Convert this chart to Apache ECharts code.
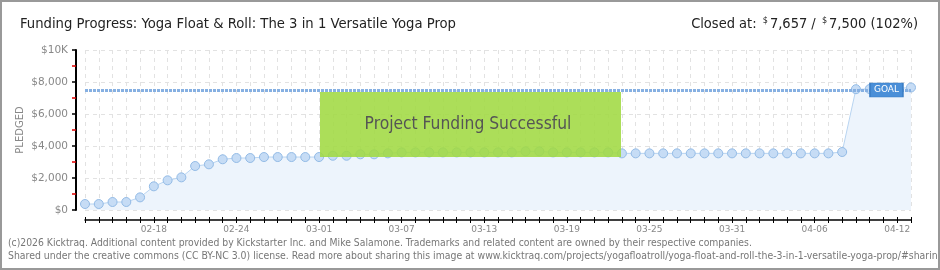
<!DOCTYPE html>
<html><head><meta charset="utf-8">
<script src="https://cdn.jsdelivr.net/npm/echarts@6/dist/echarts.min.js"></script>
<style>html,body{margin:0;padding:0;background:#fff}#c{width:940px;height:270px}</style>
</head><body><div id="c"></div>
<script>
var dates = ['02-13','02-14','02-15','02-16','02-17','02-18','02-19','02-20','02-21','02-22','02-23','02-24','02-25','02-26','02-27','02-28','02-29',
 '03-01','03-02','03-03','03-04','03-05','03-06','03-07','03-08','03-09','03-10','03-11','03-12','03-13','03-14','03-15','03-16','03-17','03-18','03-19','03-20','03-21','03-22','03-23','03-24','03-25','03-26','03-27','03-28','03-29','03-30','03-31',
 '04-01','04-02','04-03','04-04','04-05','04-06','04-07','04-08','04-09','04-10','04-11','04-12','04-13'];
var pledged = [375,375,500,500,790,1480,1855,2040,2750,2855,3170,3250,3250,3310,3310,3310,3310,3310,3390,3390,3480,3480,3540,
 3600,3600,3600,3600,3600,3600,3600,3600,3600,3665,3665,3600,3600,3600,3600,3600,
 3540,3540,3540,3540,3540,3540,3540,3540,3540,3540,3540,3540,3540,3540,3540,3540,3625,
 7550,7560,7580,7600,7657];
var goal = 7500;
var goalLabelDate = '04-11';
var yTicks = {10000:'$10K', 8000:'$8,000', 6000:'$6,000', 4000:'$4,000', 2000:'$2,000', 0:'$0'};
var titleText = 'Funding Progress: Yoga Float & Roll: The 3 in 1 Versatile Yoga Prop';
var closedAt = '7,657', goalText = '7,500', pct = '102%';
var footer1 = '(c)2026 Kicktraq. Additional content provided by Kickstarter Inc. and Mike Salamone. Trademarks and related content are owned by their respective companies.';
var footer2 = 'Shared under the creative commons (CC BY-NC 3.0) license. Read more about sharing this image at www.kicktraq.com/projects/yogafloatroll/yoga-float-and-roll-the-3-in-1-versatile-yoga-prop/#sharing';

var chart = echarts.init(document.getElementById('c'), null, {renderer:'canvas'});
var narrow = '"Liberation Sans Narrow","DejaVu Sans Condensed",sans-serif';
var option = {
  animation:false,
  grid:{left:85,right:29,top:50,bottom:60},
  xAxis:[{
    type:'category', data:dates, boundaryGap:false, offset:10,
    axisLine:{show:true,onZero:false,lineStyle:{color:'#000',width:1.5}},
    axisTick:{show:true,interval:0,length:3,lineStyle:{color:'#000'}},
    axisLabel:{interval:function(i){return (i-5)%6===0;}, margin:5, fontSize:9, color:'#888', fontFamily:'DejaVu Sans'},
    splitLine:{show:true, interval:0, lineStyle:{color:'#e2e2e2',type:[4,4]}}
  },{
    type:'category', data:dates, boundaryGap:false, offset:10, position:'bottom',
    axisLine:{show:false,onZero:false}, axisLabel:{show:false}, splitLine:{show:false},
    axisTick:{show:true,interval:0,length:3,inside:true,lineStyle:{color:'#000'}}
  }],
  yAxis:{
    type:'value', min:0, max:10000, interval:2000, offset:9,
    name:'PLEDGED', nameLocation:'middle', nameRotate:90, nameGap:51, nameMoveOverlap:false,
    nameTextStyle:{fontSize:10,color:'#888',fontFamily:'DejaVu Sans'},
    axisLine:{show:true,onZero:false,lineStyle:{color:'#000',width:2}},
    axisTick:{show:true,length:4,lineStyle:{color:'#000',width:1.5}},
    minorTick:{show:true,splitNumber:2,length:4,lineStyle:{color:'#e00000',width:1.5}},
    axisLabel:{margin:8,fontSize:10.5,color:'#888',fontFamily:'DejaVu Sans',formatter:function(v){return yTicks[v];}},
    splitLine:{show:true,lineStyle:{color:'#e2e2e2',type:[4,4]}}
  },
  series:[{
    type:'line', data:pledged, symbol:'circle', symbolSize:9,
    itemStyle:{color:'#c6dcf5',borderColor:'#93bbe6',borderWidth:1},
    lineStyle:{color:'#b8d4f1',width:1},
    areaStyle:{color:'#edf4fc',opacity:1},
    markLine:{silent:true,symbol:'none',label:{show:false},
      lineStyle:{color:'#86b0e2',width:3,type:[3,1]},
      data:[{yAxis:goal}]},
    markPoint:{silent:true,symbol:'rect',symbolSize:[33,14],symbolOffset:[3,0],
      itemStyle:{color:'#4a8fd8',borderColor:'#3a7cc4',borderWidth:1},
      label:{show:true,formatter:'GOAL',color:'#fff',fontSize:9,fontFamily:'DejaVu Sans'},
      data:[{coord:[goalLabelDate,goal]}]}
  }],
  graphic:[
    {type:'rect',left:320,top:92,z:50,shape:{width:301,height:65},style:{fill:'rgba(160,217,66,0.88)'}},
    {type:'text',x:468,y:125,z:51,style:{text:'Project Funding Successful',font:'17.3px '+narrow,fill:'#555',align:'center',verticalAlign:'middle',textShadowColor:'#fff',textShadowOffsetX:1,textShadowOffsetY:1,textShadowBlur:0}},
    {type:'text',x:20,y:24,style:{text:titleText,font:'14.7px '+narrow,fill:'#222',verticalAlign:'middle'}},
    {type:'text',x:918,y:24,style:{
      text:'{a|Closed at: }{s|$}{a|'+closedAt+' / }{s|$}{a|'+goalText+' ('+pct+')}',
      align:'right',verticalAlign:'middle',
      rich:{a:{font:'14.5px '+narrow,fill:'#222'},s:{font:'9px '+narrow,fill:'#222',padding:[0,2,7,2]}}}},
    {type:'text',x:8,y:243,style:{text:footer1,font:'10.3px "DejaVu Sans Condensed",sans-serif',fill:'#777',verticalAlign:'middle'}},
    {type:'text',x:8,y:256,style:{text:footer2,font:'10.4px "DejaVu Sans Condensed",sans-serif',fill:'#777',verticalAlign:'middle'}},
    {type:'rect',shape:{x:1,y:1,width:938,height:268},style:{fill:null,stroke:'#999',lineWidth:2},z:100}
  ]
};
chart.setOption(option);
</script></body></html>
